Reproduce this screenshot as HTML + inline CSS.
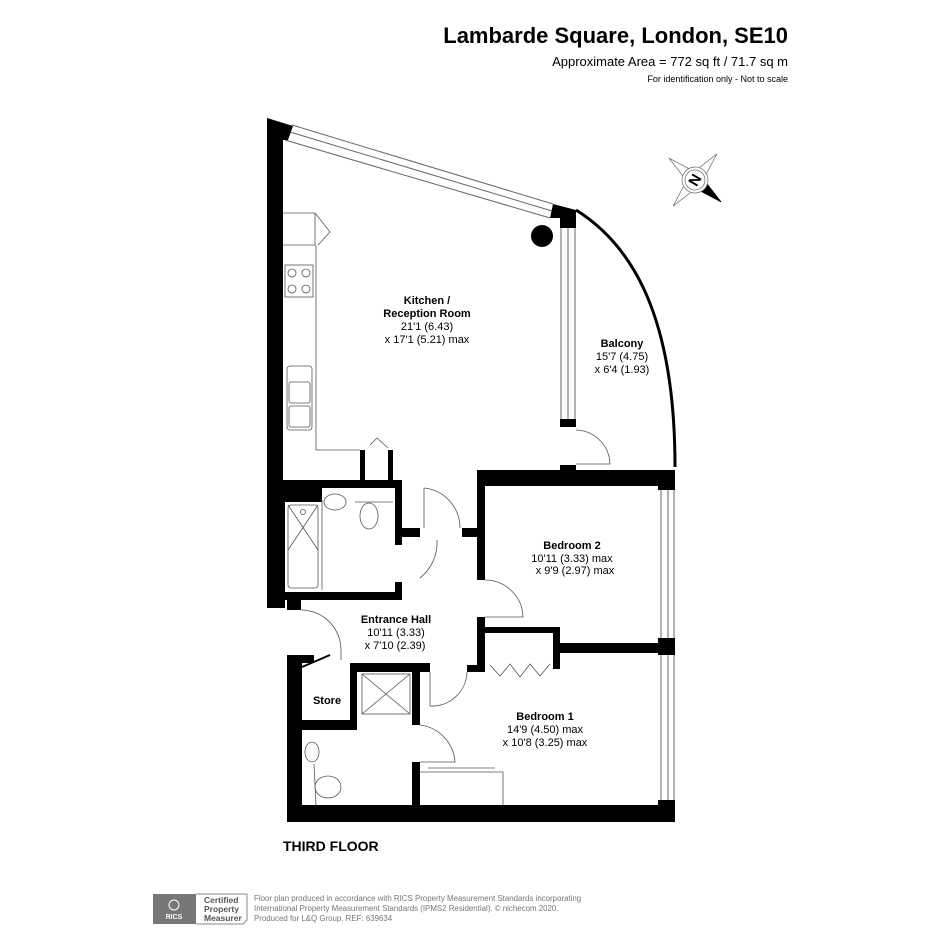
<!DOCTYPE html>
<html><head><meta charset="utf-8"><style>
body{margin:0;background:#fff;}
svg{display:block;font-family:"Liberation Sans",Arial,sans-serif;}
</style></head><body>
<svg width="945" height="945" viewBox="0 0 945 945" xmlns="http://www.w3.org/2000/svg">
<rect width="945" height="945" fill="#fff"/>
<!-- header -->
<text x="788" y="43" font-size="22" font-weight="bold" text-anchor="end">Lambarde Square, London, SE10</text>
<text x="788" y="66" font-size="13" text-anchor="end">Approximate Area = 772 sq ft / 71.7 sq m</text>
<text x="788" y="82" font-size="9" text-anchor="end">For identification only - Not to scale</text>

<!-- compass -->
<g transform="translate(695,180) rotate(40)" stroke="#777" stroke-width="0.8" fill="#fff">
<polygon points="0,-34 6,-6 0,0 -6,-6"/><polygon points="0,34 6,6 0,0 -6,6"/>
<polygon points="-34,0 -6,-6 0,0 -6,6"/><polygon points="34,0 6,-6 0,0 6,6" fill="#000" stroke="#000"/>
<circle r="13"/><circle r="10"/>
</g>
<text x="695" y="185" font-size="15" font-weight="bold" text-anchor="middle" transform="rotate(-60 695 180)">N</text>

<!-- kitchen window -->
<g stroke="#666" stroke-width="1" fill="none">
<line x1="292" y1="125" x2="553" y2="204"/><line x1="290" y1="132" x2="552" y2="211"/><line x1="285" y1="140" x2="550" y2="218"/>
</g>
<!-- walls -->
<g fill="#000">
<polygon points="267,118 293,126 288,140 283,140 283,480 267,480"/>
<polygon points="553,204 576,210 576,224 560,224 560,218 550,218"/>
<rect x="560" y="218" width="16" height="10"/>
<rect x="560" y="419" width="16" height="8"/>
<rect x="267" y="480" width="135" height="8"/>
<rect x="267" y="488" width="18" height="120"/>
<rect x="285" y="488" width="37" height="14"/>
<rect x="395" y="488" width="7" height="57"/>
<rect x="402" y="528" width="18" height="9"/>
<rect x="285" y="592" width="117" height="8"/>
<rect x="395" y="582" width="7" height="18"/>
<rect x="287" y="600" width="14" height="10"/>
<rect x="477" y="470" width="198" height="16"/>
<rect x="477" y="486" width="8" height="94"/>
<rect x="462" y="528" width="15" height="9"/>
<rect x="658" y="486" width="17" height="4"/>
<rect x="658" y="638" width="17" height="17"/>
<rect x="658" y="800" width="17" height="22"/>
<rect x="560" y="643" width="98" height="10"/>
<rect x="477" y="617" width="8" height="55"/>
<rect x="485" y="627" width="75" height="6"/>
<rect x="553" y="627" width="7" height="42"/>
<rect x="467" y="665" width="18" height="7"/>
<rect x="287" y="655" width="15" height="167"/>
<rect x="302" y="655" width="12" height="8"/>
<rect x="302" y="720" width="55" height="10"/>
<rect x="350" y="663" width="80" height="9"/>
<rect x="350" y="663" width="7" height="62"/>
<rect x="412" y="672" width="8" height="53"/>
<rect x="412" y="762" width="8" height="43"/>
<rect x="302" y="805" width="373" height="17"/>
<circle cx="542" cy="236" r="11"/>
</g>
<!-- balcony door window -->
<g stroke="#666" fill="none" stroke-width="1">
<line x1="561" y1="228" x2="561" y2="419"/><line x1="568" y1="228" x2="568" y2="419"/><line x1="575" y1="228" x2="575" y2="419"/>
<line x1="661" y1="490" x2="661" y2="638"/><line x1="668" y1="490" x2="668" y2="638"/><line x1="674" y1="490" x2="674" y2="638"/>
<line x1="661" y1="655" x2="661" y2="800"/><line x1="668" y1="655" x2="668" y2="800"/><line x1="674" y1="655" x2="674" y2="800"/>
</g>
<path d="M576,210 C640,250 675,330 675,467" stroke="#000" stroke-width="3" fill="none"/>
<rect x="560" y="465" width="16" height="6" fill="#000"/>
<!-- doors -->
<g stroke="#555" stroke-width="0.8" fill="none">
<path d="M576,430 A35,35 0 0 1 610,464 L576,464"/>
<path d="M424,488 A40,40 0 0 1 460,528"/><line x1="424" y1="488" x2="424" y2="528"/>
<path d="M420,578 A45,45 0 0 0 437,540"/>
<path d="M485,580 A38,38 0 0 1 523,617 L485,617"/>
<path d="M301,610 A40,40 0 0 1 341,650"/><line x1="341" y1="650" x2="341" y2="660"/>
<path d="M430,672 L430,706 A35,35 0 0 0 467,672"/>
<path d="M420,725 A40,40 0 0 1 455,762 L420,762"/>
<polyline points="490,665 500,676 510,664 520,677 530,664 540,676 550,664"/>
<!-- kitchen -->
<polyline points="283,213 315,213 315,245 283,245"/>
<polyline points="315,213 330,232 318,245"/>
<polyline points="316,245 316,450 360,450"/>
<rect x="285" y="265" width="28" height="32"/>
<circle cx="292" cy="273" r="4"/><circle cx="306" cy="273" r="4"/><circle cx="292" cy="289" r="4"/><circle cx="306" cy="289" r="4"/>
<rect x="287" y="366" width="25" height="64" rx="3"/>
<rect x="289" y="382" width="21" height="21" rx="2"/><rect x="289" y="406" width="21" height="21" rx="2"/>
<polyline points="370,445 377,438 388,448"/>
<!-- bath -->
<rect x="288" y="505" width="30" height="83" rx="3"/>
<line x1="288" y1="505" x2="318" y2="550"/><line x1="318" y1="505" x2="288" y2="550"/>
<circle cx="303" cy="512" r="2.5"/>
<line x1="322" y1="500" x2="322" y2="590"/>
<ellipse cx="335" cy="502" rx="11" ry="8"/>
<ellipse cx="369" cy="516" rx="9" ry="13"/>
<line x1="355" y1="502" x2="393" y2="502"/>
<!-- shower -->
<rect x="362" y="674" width="48" height="40"/>
<line x1="362" y1="674" x2="410" y2="714"/><line x1="410" y1="674" x2="362" y2="714"/>
<ellipse cx="312" cy="752" rx="7" ry="10"/>
<ellipse cx="328" cy="787" rx="13" ry="11"/>
<line x1="314" y1="764" x2="316" y2="805"/>
<line x1="302" y1="667" x2="330" y2="655" stroke="#000" stroke-width="2"/>
<polyline points="420,772 503,772 503,805"/>
<line x1="428" y1="768" x2="495" y2="768"/>
</g>
<g fill="#000" stroke="none">
<rect x="360" y="450" width="5" height="30"/><rect x="388" y="450" width="5" height="30"/>
</g>
<!-- labels -->
<g font-size="11" text-anchor="middle">
<text x="427" y="304" font-weight="bold">Kitchen /</text>
<text x="427" y="317" font-weight="bold">Reception Room</text>
<text x="427" y="330">21'1 (6.43)</text>
<text x="427" y="343">x 17'1 (5.21) max</text>
<text x="622" y="347" font-weight="bold">Balcony</text>
<text x="622" y="360">15'7 (4.75)</text>
<text x="622" y="373">x 6'4 (1.93)</text>
<text x="572" y="549" font-weight="bold">Bedroom 2</text>
<text x="572" y="562">10'11 (3.33) max</text>
<text x="575" y="574">x 9'9 (2.97) max</text>
<text x="396" y="623" font-weight="bold">Entrance Hall</text>
<text x="396" y="636">10'11 (3.33)</text>
<text x="395" y="649">x 7'10 (2.39)</text>
<text x="327" y="704" font-weight="bold">Store</text>
<text x="545" y="720" font-weight="bold">Bedroom 1</text>
<text x="545" y="733">14'9 (4.50) max</text>
<text x="545" y="746">x 10'8 (3.25) max</text>
</g>
<text x="283" y="851" font-size="14" font-weight="bold">THIRD FLOOR</text>
<!-- footer -->
<rect x="153" y="894" width="43" height="30" fill="#777"/>
<text x="174" y="919" font-size="7" fill="#fff" text-anchor="middle" font-weight="bold">RICS</text>
<circle cx="174" cy="905" r="5" fill="none" stroke="#fff"/>
<path d="M196,894 H247 V920 L243,924 H196" fill="none" stroke="#888"/>
<text x="204" y="903" font-size="8.5" font-weight="bold" fill="#555">Certified</text>
<text x="204" y="912" font-size="8.5" font-weight="bold" fill="#555">Property</text>
<text x="204" y="921" font-size="8.5" font-weight="bold" fill="#555">Measurer</text>
<g font-size="7.9" fill="#777">
<text x="254" y="901">Floor plan produced in accordance with RICS Property Measurement Standards incorporating</text>
<text x="254" y="911">International Property Measurement Standards (IPMS2 Residential).   © nichecom 2020.</text>
<text x="254" y="921">Produced for L&amp;Q Group.   REF:  639634</text>
</g>
</svg>
</body></html>
